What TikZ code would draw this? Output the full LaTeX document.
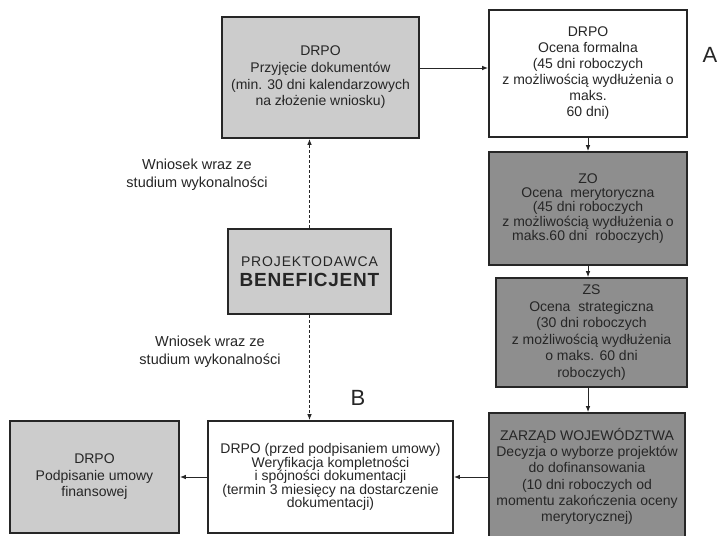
\documentclass[tikz,border=0pt]{standalone}
\usepackage{fontspec}
\setmainfont{Liberation Sans}
\usetikzlibrary{arrows.meta}
\definecolor{lightbox}{HTML}{CCCCCC}
\definecolor{darkbox}{HTML}{8E8E8E}
\definecolor{ink}{HTML}{262626}
\begin{document}
\begin{tikzpicture}[x=1pt,y=-1pt,
  box/.style={draw=ink,line width=1.6pt,rectangle,inner sep=0pt,align=center,text=ink},
  whitebox/.style={box,fill=white},
  lightb/.style={box,fill=lightbox},
  darkb/.style={box,fill=darkbox},
  arr/.style={-{Latex[length=6pt,width=4.5pt]},line width=1pt,draw=ink},
  darr/.style={arr,dashed,dash pattern=on 3pt off 2pt},
  lbl/.style={align=center,text=ink,inner sep=0pt,font=\fontsize{14.5}{18}\selectfont},
  big/.style={text=ink,inner sep=0pt,font=\fontsize{22}{22}\selectfont}
]
\useasboundingbox[fill=white] (0,0) rectangle (722,535);

\node[lightb,minimum width=197pt,minimum height=121pt,font=\fontsize{14}{16.7}\selectfont] (b1) at (320.5,77.5)
  {DRPO\\Przyjęcie dokumentów\\(min. 30 dni kalendarzowych\\na złożenie wniosku)};

\node[whitebox,minimum width=198pt,minimum height=127pt,font=\fontsize{14}{16}\selectfont] (b2) at (588,73.5)
  {DRPO\\Ocena formalna\\(45 dni roboczych\\z możliwością wydłużenia o\\maks.\\60 dni)};

\node[darkb,minimum width=198pt,minimum height=113pt,font=\fontsize{14}{14.2}\selectfont] (b3) at (588,208.5)
  {ZO\\Ocena \ merytoryczna\\(45 dni roboczych\\z możliwością wydłużenia o\\maks.60 dni \ roboczych)};

\node[darkb,minimum width=191pt,minimum height=109pt,font=\fontsize{14}{16.5}\selectfont] (b4) at (591.5,332.5)
  {ZS\\Ocena \ strategiczna\\(30 dni roboczych\\z możliwością wydłużenia\\o maks. 60 dni\\roboczych)};

\node[darkb,minimum width=196pt,minimum height=127pt,font=\fontsize{14}{16.3}\selectfont] (b5) at (587,476.5)
  {ZARZĄD WOJEWÓDZTWA\\Decyzja o wyborze projektów\\do dofinansowania\\(10 dni roboczych od\\momentu zakończenia oceny\\merytorycznej)};

\node[whitebox,minimum width=245pt,minimum height=112pt,font=\fontsize{14}{13.5}\selectfont] (b6) at (330.5,477)
  {DRPO (przed podpisaniem umowy)\\Weryfikacja kompletności\\i spójności dokumentacji\\(termin 3 miesięcy na dostarczenie\\dokumentacji)};

\node[lightb,minimum width=169pt,minimum height=112pt,font=\fontsize{14}{16.5}\selectfont] (b7) at (94.5,477)
  {DRPO\\Podpisanie umowy\\finansowej};

\node[lightb,minimum width=163pt,minimum height=85pt] (ben) at (309.5,271.5)
  {\fontsize{14}{14}\selectfont\addfontfeature{LetterSpace=6}PROJEKTODAWCA\\[6pt]
   \fontsize{19}{19}\selectfont\bfseries\addfontfeature{LetterSpace=4}BENEFICJENT};

\node[lbl] (l1) at (197,175) {Wniosek wraz ze\\studium wykonalności};
\node[lbl] (l2) at (210,352) {Wniosek wraz ze\\studium wykonalności};
\node[big] (A) at (710,55) {A};
\node[big] (B) at (358,398) {B};

\draw[arr] ([yshift=9.5pt]b1.east) -- ([yshift=9.5pt]b1.east -| b2.west);
\draw[arr] (b2.south) -- (b3.north);
\draw[arr] (b3.south) -- (b3.south |- b4.north);
\draw[arr] (b4.south -| b3.south) -- (b3.south |- b5.north);
\draw[arr] (b5.west |- b6.east) -- (b6.east);
\draw[arr] (b6.west) -- (b7.east);
\draw[darr] (ben.north) -- (ben.north |- b1.south);
\draw[darr] (ben.south) -- (ben.south |- b6.north);
\end{tikzpicture}
\end{document}
